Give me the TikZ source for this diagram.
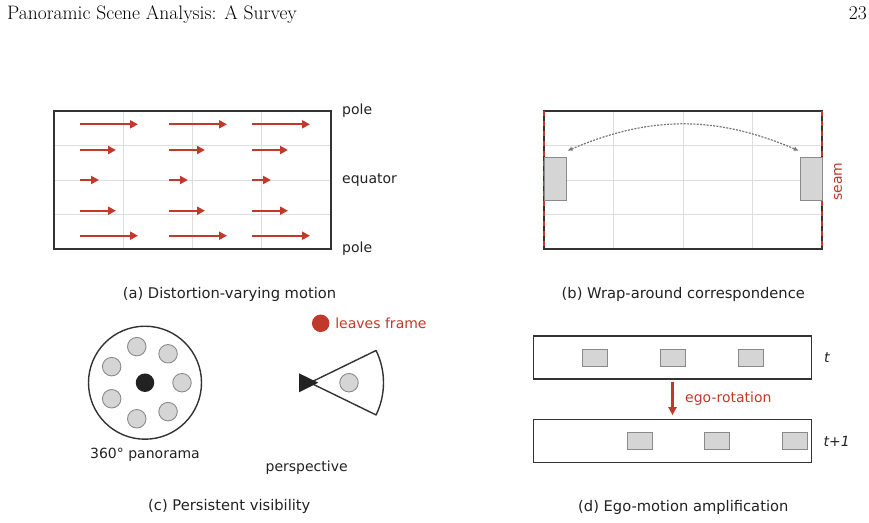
\documentclass[tikz,border=0pt]{standalone}
\usepackage{fontspec}
\usepackage{xcolor}
\usepackage{tikz}
\usetikzlibrary{arrows.meta,positioning,calc}
\newfontfamily\figfont{DejaVu Sans}
\definecolor{ink}{HTML}{222222}
\definecolor{framec}{HTML}{333333}
\definecolor{seamred}{HTML}{C0392B}
\definecolor{gridc}{HTML}{DDDDDD}
\definecolor{objfill}{HTML}{D5D5D5}
\definecolor{objline}{HTML}{8A8A8A}
\definecolor{wrapc}{HTML}{777777}
\tikzset{
  frame/.style={draw=framec,line width=1.7pt},
  gridline/.style={draw=gridc,line width=0.8pt},
  seamline/.style={draw=seamred,line width=1.7pt,dash pattern=on 5pt off 5pt},
  flowv/.style={-{Triangle[length=8pt,width=8pt]},draw=seamred,line width=2.3pt},
  egoarr/.style={flowv,shorten <=1.5pt,shorten >=3.5pt},
  wrapline/.style={{Latex[length=5pt,width=4.5pt]}-{Latex[length=5pt,width=4.5pt]},
    draw=wrapc,line width=1.2pt,dash pattern=on 2pt off 1.3pt},
  obj/.style={circle,draw=objline,fill=objfill,line width=0.9pt,minimum size=18.5pt,inner sep=0pt},
  objbox/.style={rectangle,draw=objline,fill=objfill,line width=1pt,
    minimum width=25pt,minimum height=17pt,inner sep=0pt},
  lbl/.style={font=\figfont\fontsize{14}{16}\selectfont,text=ink,inner sep=0pt},
  ilbl/.style={lbl,font=\figfont\itshape\fontsize{14}{16}\selectfont},
  figcap/.style={font=\figfont\fontsize{14.7}{17}\selectfont,text=ink,inner sep=0pt},
  headf/.style={font=\fontsize{19.5}{22}\selectfont,text=black,inner sep=0pt},
}
\begin{document}
\begin{tikzpicture}[x=1pt,y=-1pt]
  \useasboundingbox[fill=white] (0,0) rectangle (869,522);
  \node[headf,anchor=base west] (hdr) at (7,19) {Panoramic Scene Analysis: A Survey};
  \node[headf,anchor=base east] (pgno) at (867,19) {23};
  % --- (a) distortion-varying motion ---
  \foreach \gx in {123.25,192.5,261.75} \draw[gridline] (\gx,111) -- (\gx,249);
  \foreach \gy in {145.5,180,214.5} \draw[gridline] (54,\gy) -- (331,\gy);
  \draw[frame] (54,111) rectangle (331,249);
  \foreach \ay/\al in {124.3/58,150/36,180/19,210.7/36,235.7/58}
    \foreach \ax in {80,169,252} \draw[flowv] (\ax,\ay) -- ++(\al,0);
  \node[lbl,anchor=west] (pn) at (342,111) {pole};
  \node[lbl,anchor=west] (eq) at (342,180) {equator};
  \node[lbl,anchor=west] (ps) at (342,249) {pole};
  \node[figcap] (capa) at (229.5,294) {(a) Distortion-varying motion};
  % --- (b) wrap-around correspondence ---
  \foreach \gx in {613.5,683,752.5} \draw[gridline] (\gx,111) -- (\gx,249);
  \foreach \gy in {145.5,180,214.5} \draw[gridline] (544,\gy) -- (822,\gy);
  \draw[frame] (544,111) rectangle (822,249);
  \draw[seamline] (544,111) -- (544,249);
  \draw[seamline] (822,111) -- (822,249);
  \node[objbox,minimum width=22pt,minimum height=43pt] (wl) at (555,178.7) {};
  \node[objbox,minimum width=22pt,minimum height=43pt] (wr) at (811.3,178.7) {};
  \draw[wrapline] ([shift={(1pt,6pt)}]wl.north east) to[out=23,in=157] ([shift={(-1pt,6pt)}]wr.north west);
  \node[lbl,text=seamred,rotate=90] (seam) at (838,181.7) {seam};
  \node[figcap] (capb) at (683.3,294) {(b) Wrap-around correspondence};
  % --- (c) persistent visibility ---
  \node[circle,draw=framec,line width=1.4pt,minimum size=113pt,inner sep=0pt] (pano) at (145,382.7) {};
  \node[circle,fill=ink,minimum size=18.5pt,inner sep=0pt] (pcam) at (pano.center) {};
  \foreach \k in {0,...,6} \node[obj] (po\k) at ([shift={(\k*360/7:37pt)}]pano.center) {};
  \node[lbl] (panolbl) at (145,454.3) {360° panorama};
  \coordinate (apex) at (310,382.7);
  \draw[frame,line width=1.4pt,line join=round] (apex) -- ++(26:73.5pt)
    arc[start angle=26,end angle=-26,radius=73.5pt] -- cycle;
  \fill[ink] (299,373.3) -- (299,392.3) -- (318.3,382.7) -- cycle;
  \node[obj] (pobj) at (349,382.7) {};
  \node[circle,fill=seamred,minimum size=17.5pt,inner sep=0pt] (lost) at (320.7,323.3) {};
  \node[lbl,text=seamred,right=5.5pt of lost] (lostlbl) {leaves frame};
  \node[lbl] (persplbl) at (306.7,467.7) {perspective};
  \node[figcap] (capc) at (229.3,506.7) {(c) Persistent visibility};
  % --- (d) ego-motion amplification ---
  \node[frame,minimum width=278pt,minimum height=43pt,inner sep=0pt] (ft) at (672.5,357.7) {};
  \node[frame,minimum width=278pt,minimum height=43pt,inner sep=0pt] (fb) at (672.5,441) {};
  \foreach \i/\ox in {1/595,2/672.75,3/750.5} \node[objbox] (ot\i) at (\ox,357.7) {};
  \foreach \i/\ox in {1/639.5,2/717.25,3/795} \node[objbox] (ob\i) at (\ox,441.2) {};
  \draw[egoarr] (ft.south) -- (fb.north);
  \node[lbl,text=seamred,anchor=west] (egolbl) at (685,398.7) {ego-rotation};
  \node[ilbl,anchor=west] (tlbl) at (824,357.7) {t};
  \node[ilbl,anchor=west] (t1lbl) at (823.5,441) {t+1};
  \node[figcap] (capd) at (683.3,507.3) {(d) Ego-motion amplification};
\end{tikzpicture}
\end{document}
